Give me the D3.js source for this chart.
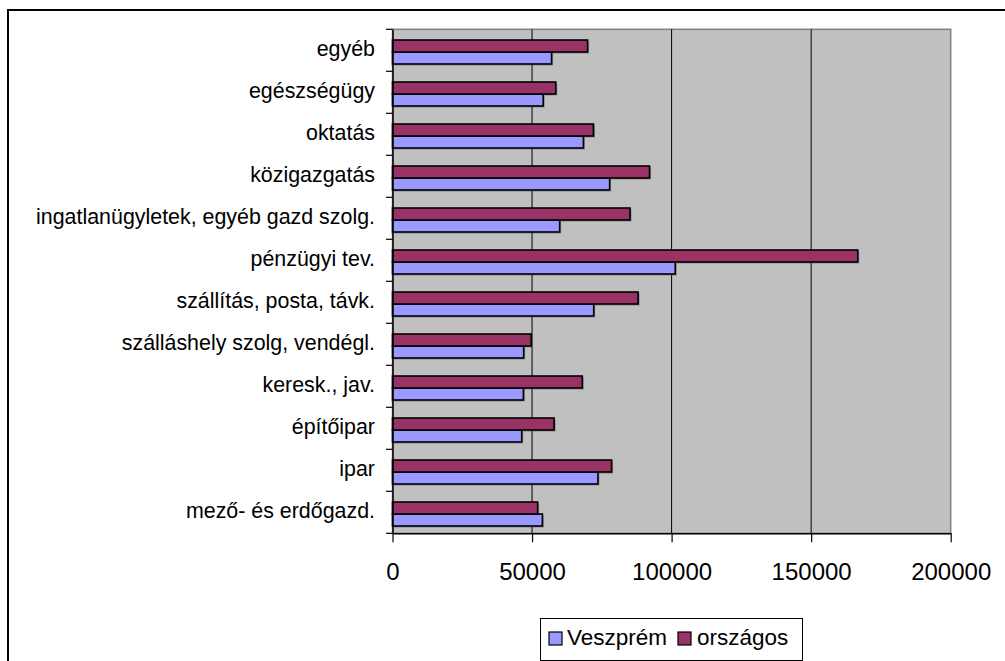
<!DOCTYPE html>
<html>
<head>
<meta charset="utf-8">
<script src="https://cdn.jsdelivr.net/npm/d3@7/dist/d3.min.js"></script>
<style>
  html, body { margin: 0; padding: 0; background: #fff; }
  svg { display: block; }
  text { font-family: "Liberation Sans", Arial, sans-serif; fill: #000; }
</style>
</head>
<body>
<svg id="chart" width="1005" height="661"></svg>
<script>
const categories = ["mező- és erdőgazd.", "ipar", "építőipar", "keresk., jav.",
  "szálláshely szolg, vendégl.", "szállítás, posta, távk.", "pénzügyi tev.",
  "ingatlanügyletek, egyéb gazd szolg.", "közigazgatás", "oktatás", "egészségügy", "egyéb"];
const seriesNames = ["Veszprém", "országos"];
const veszprem = [53700, 73600, 46300, 46900, 47000, 72100, 101300, 59900, 77800, 68400, 54000, 57000];
const orszagos = [52000, 78500, 57900, 68000, 49700, 88000, 166700, 85100, 92100, 72000, 58500, 69900];
const xTicks = [0, 50000, 100000, 150000, 200000];
const colors = ["#9999FF", "#993366"];

const svg = d3.select("#chart");
const plot = { left: 392.5, right: 950.7, top: 29.3, bottom: 533.3 };

// outer chart border (extends beyond page right/bottom)
svg.append("rect").attr("x", 8).attr("y", 10).attr("width", 1010).attr("height", 670)
  .attr("fill", "#fff").attr("stroke", "#000").attr("stroke-width", 2);

const x = d3.scaleLinear().domain([0, 200000]).range([plot.left, plot.right]);
const y = d3.scaleBand().domain(categories.slice().reverse()).range([plot.top, plot.bottom]).padding(0);
const bw = y.bandwidth();
// országos on top, Veszprém below within each category
const ySub = d3.scaleBand().domain(["országos", "Veszprém"]).range([bw * 0.255, bw * 0.826]).padding(0);

// plot area
svg.append("rect").attr("x", plot.left).attr("y", plot.top)
  .attr("width", plot.right - plot.left).attr("height", plot.bottom - plot.top)
  .attr("fill", "#C0C0C0").attr("stroke", "#808080").attr("stroke-width", 1.5);

// gridlines
svg.append("g").selectAll("line").data(xTicks.slice(1, -1)).join("line")
  .attr("x1", d => x(d)).attr("x2", d => x(d))
  .attr("y1", plot.top).attr("y2", plot.bottom)
  .attr("stroke", "#000").attr("stroke-width", 1);

// data
const data = [];
categories.forEach((c, i) => {
  data.push({ cat: c, series: "Veszprém", value: veszprem[i], color: colors[0] });
  data.push({ cat: c, series: "országos", value: orszagos[i], color: colors[1] });
});

const bars = svg.append("g");
// shadows
bars.selectAll("rect.shadow").data(data).join("rect").attr("class", "shadow")
  .attr("x", x(0) + 1.5)
  .attr("y", d => y(d.cat) + ySub(d.series) + 1.5)
  .attr("width", d => x(d.value) - x(0))
  .attr("height", ySub.bandwidth())
  .attr("fill", "#5a5a5a").attr("opacity", 0.55);
bars.selectAll("rect.bar").data(data).join("rect").attr("class", "bar")
  .attr("x", x(0))
  .attr("y", d => y(d.cat) + ySub(d.series))
  .attr("width", d => x(d.value) - x(0))
  .attr("height", ySub.bandwidth())
  .attr("fill", d => d.color).attr("stroke", "#000").attr("stroke-width", 1.6);

// x axis
const xAxis = svg.append("g").attr("transform", `translate(0,${plot.bottom})`)
  .call(d3.axisBottom(x).tickValues(xTicks).tickSize(9).tickSizeOuter(0).tickFormat(d3.format("d")));
xAxis.select(".domain").attr("stroke", "#000").attr("stroke-width", 1.5);
xAxis.selectAll(".tick line").attr("stroke", "#000").attr("stroke-width", 1.2);
xAxis.selectAll(".tick text").attr("font-size", "24px").attr("dy", null).attr("y", 46.7)
  .attr("font-family", "'Liberation Sans', Arial, sans-serif");

// y axis
const yAxis = svg.append("g").attr("transform", `translate(${plot.left},0)`)
  .call(d3.axisLeft(y).tickSize(0).tickPadding(17.5));
yAxis.select(".domain").attr("stroke", "#000").attr("stroke-width", 1.5);
yAxis.selectAll(".tick text").attr("font-size", "21.4px").attr("dy", "0.28em")
  .attr("font-family", "'Liberation Sans', Arial, sans-serif");
// ticks at category boundaries
const bounds = categories.map(c => y(c)).concat([plot.bottom]);
svg.append("g").selectAll("line").data(bounds).join("line")
  .attr("x1", plot.left - 6.5).attr("x2", plot.left)
  .attr("y1", d => d).attr("y2", d => d)
  .attr("stroke", "#000").attr("stroke-width", 1.2);

// legend
const lg = svg.append("g");
lg.append("rect").attr("x", 540.5).attr("y", 618.5).attr("width", 262).attr("height", 42)
  .attr("fill", "#fff").attr("stroke", "#000").attr("stroke-width", 1);
const legendItems = [
  { name: seriesNames[0], color: colors[0], sx: 549, tx: 567 },
  { name: seriesNames[1], color: colors[1], sx: 678, tx: 697 }
];
legendItems.forEach(it => {
  lg.append("rect").attr("x", it.sx).attr("y", 632).attr("width", 13).attr("height", 13)
    .attr("fill", it.color).attr("stroke", "#000").attr("stroke-width", 1.2);
  lg.append("text").attr("x", it.tx).attr("y", 645).attr("font-size", "22.5px").text(it.name);
});
</script>
</body>
</html>
